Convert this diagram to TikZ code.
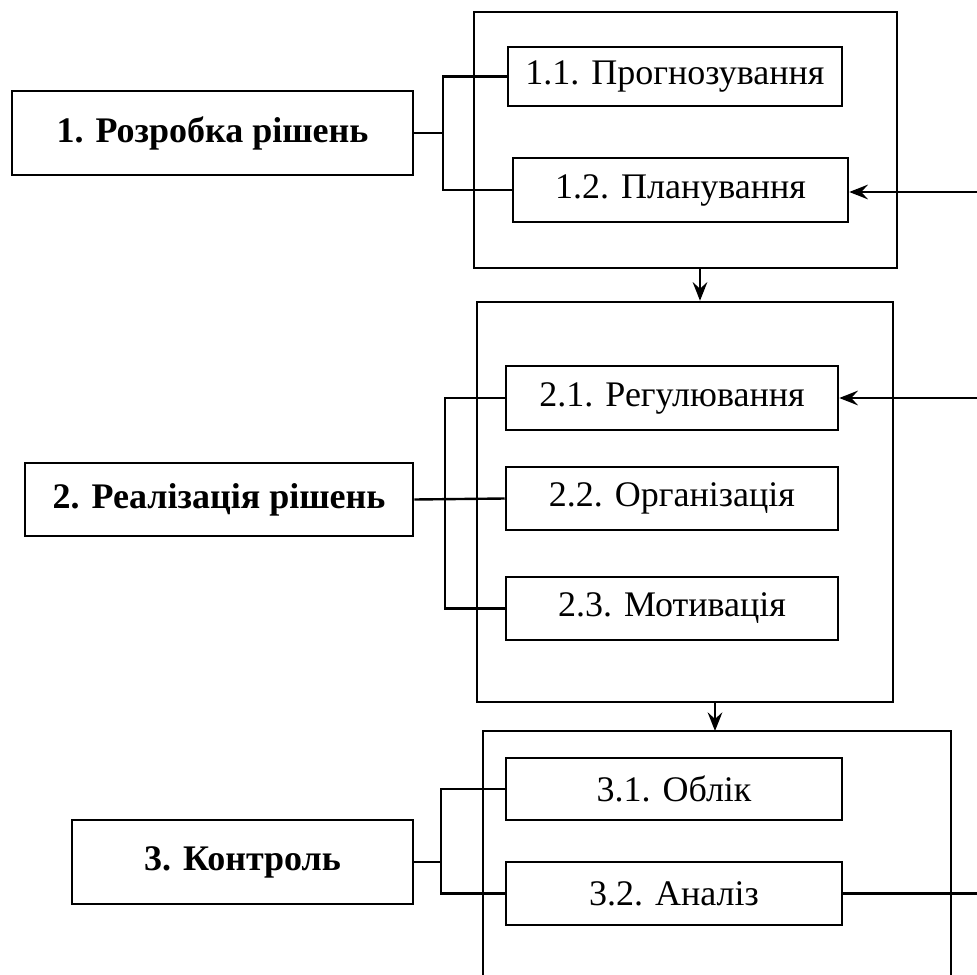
\documentclass[tikz,border=0pt]{standalone}
\usepackage{fontspec}
\setmainfont{Liberation Serif}
\usetikzlibrary{arrows.meta}
\begin{document}
\begin{tikzpicture}[x=0.75pt,y=-0.75pt,
  box/.style={draw, line width=1.9pt, inner sep=0pt, font=\fontsize{27}{32}\selectfont},
  mainbox/.style={box, font=\fontsize{27}{32}\selectfont\bfseries},
  frame/.style={draw, line width=1.9pt, inner sep=0pt},
  link/.style={line width=1.8pt},
  arr/.style={line width=2pt, -{Stealth[length=14pt,width=11pt,inset=5pt]}}]
\useasboundingbox (0,0) rectangle (977,974);
% outer frames
\node[frame, minimum width=317.25pt, minimum height=192pt] (o1) at (685.5,140) {};
\node[frame, minimum width=312pt, minimum height=300pt] (o2) at (685,502) {};
\coordinate (o3bl) at (483,980);
\coordinate (o3tr) at (951,731);
\coordinate (o3br) at (951,980);
\draw[line width=1.9pt] (o3bl) |- (o3tr) -- (o3br);
% main boxes
\node[mainbox, minimum width=300.75pt, minimum height=63pt] (A) at (212.5,133) {1. Розробка рішень};
\node[mainbox, minimum width=291pt, minimum height=54.75pt] (B) at (219,499.5) {2. Реалізація рішень};
\node[mainbox, minimum width=255.75pt, minimum height=63pt] (C) at (242.5,862) {3. Контроль};
% sub boxes
\node[box, minimum width=250.5pt, minimum height=44.25pt] (p11) at (675,76.5) {1.1. Прогнозування};
\node[box, minimum width=251.25pt, minimum height=48pt] (p12) at (680.5,190) {1.2. Планування};
\node[box, minimum width=249pt, minimum height=48pt] (p21) at (672,398) {2.1. Регулювання};
\node[box, minimum width=249pt, minimum height=47.25pt] (p22) at (672,498.5) {2.2. Організація};
\node[box, minimum width=249pt, minimum height=47.25pt] (p23) at (672,608.5) {2.3. Мотивація};
\node[box, minimum width=252pt, minimum height=46.5pt] (p31) at (674,789) {3.1. Облік};
\node[box, minimum width=252pt, minimum height=47.25pt] (p32) at (674,893.5) {3.2. Аналіз};
% junctions
\coordinate (ja) at (443,133);
\coordinate (jb) at (445,499.5);
\coordinate (jc) at (441,862);
\draw[link] (A.east) -- (ja);
\draw[link] (p11.west) -| (ja) |- (p12.west);
\draw[link] (B.east) -- (p22.west);
\draw[link] (p21.west) -| (jb) |- (p23.west);
\draw[link] (C.east) -- (jc);
\draw[link] (p31.west) -| (jc) |- (p32.west);
% arrows from the right
\coordinate (r12) at (980,192);
\coordinate (r21) at (980,398);
\coordinate (r32) at (980,893.5);
\draw[arr] (r12) -- (p12.east |- r12);
\draw[arr] (r21) -- (p21.east);
\draw[link] (p32.east) -- (r32);
% down arrows
\coordinate (d1) at (700,0);
\coordinate (d2) at (715,0);
\draw[arr] (d1 |- o1.south) -- (d1 |- o2.north);
\draw[arr] (d2 |- o2.south) -- (d2 |- o3tr);
\end{tikzpicture}
\end{document}
